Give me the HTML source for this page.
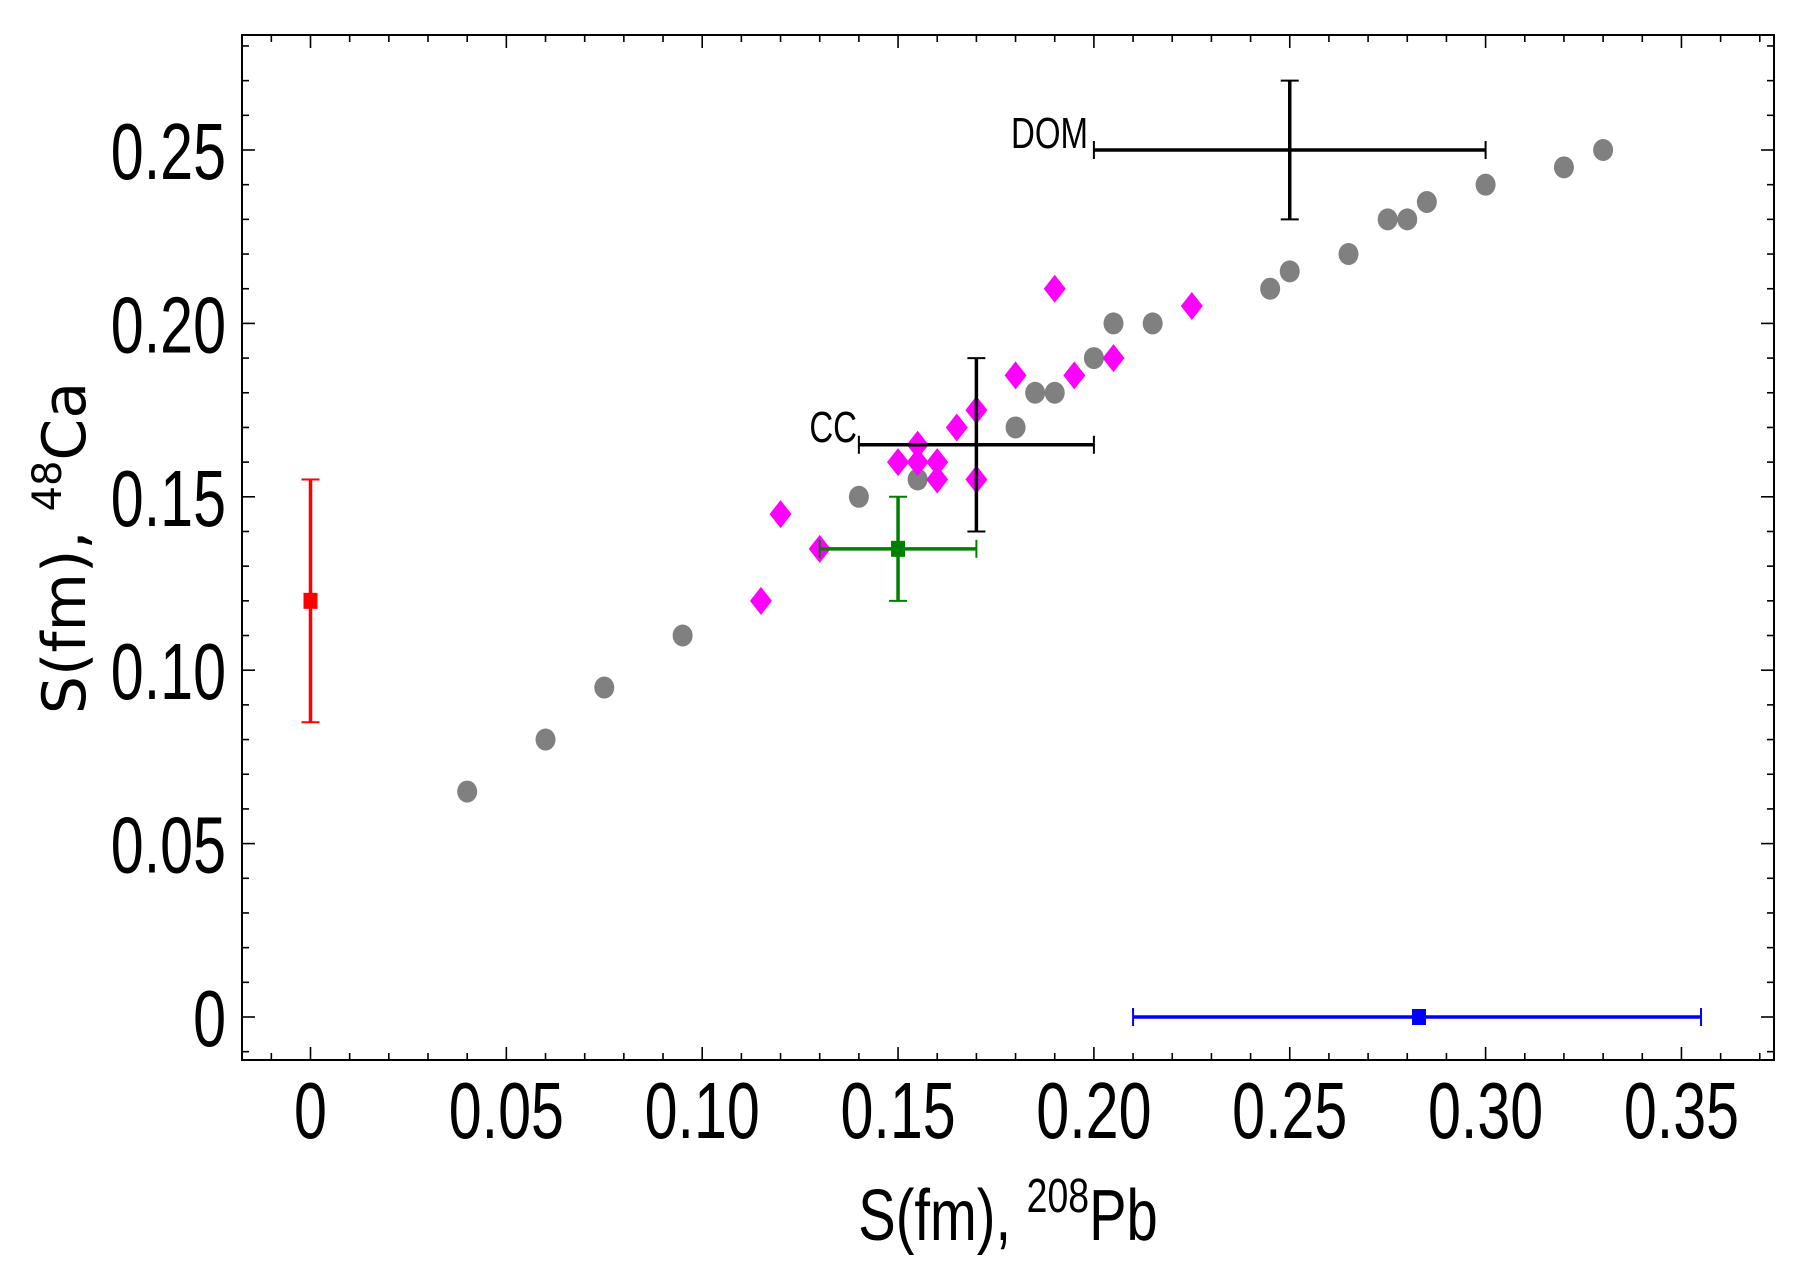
<!DOCTYPE html>
<html><head><meta charset="utf-8"><style>
html,body{margin:0;padding:0;background:#fff;}
svg{display:block;}
</style></head><body>
<svg id="chart" width="1801" height="1272" viewBox="0 0 1801 1272" xmlns="http://www.w3.org/2000/svg"></svg>
<script>
const xTicks=[0,0.05,0.10,0.15,0.20,0.25,0.30,0.35];
const xTickLabels=["0","0.05","0.10","0.15","0.20","0.25","0.30","0.35"];
const yTicks=[0,0.05,0.10,0.15,0.20,0.25];
const yTickLabels=["0","0.05","0.10","0.15","0.20","0.25"];
const grayX=[0.04,0.06,0.075,0.095,0.14,0.155,0.18,0.185,0.19,0.2,0.205,0.215,0.245,0.25,0.265,0.275,0.28,0.285,0.3,0.32,0.33];
const grayY=[0.065,0.08,0.095,0.11,0.15,0.155,0.17,0.18,0.18,0.19,0.2,0.2,0.21,0.215,0.22,0.23,0.23,0.235,0.24,0.245,0.25];
const magX=[0.115,0.12,0.13,0.15,0.155,0.155,0.16,0.16,0.165,0.17,0.17,0.18,0.19,0.195,0.205,0.225];
const magY=[0.12,0.145,0.135,0.16,0.165,0.16,0.16,0.155,0.17,0.175,0.155,0.185,0.21,0.185,0.19,0.205];
const errNames=["red-point","green-point","cc-point","dom-point","blue-point"];
const errX=[0,0.15,0.17,0.25,0.283];
const errY=[0.12,0.135,0.165,0.25,0];
const errXlo=[0,0.13,0.14,0.2,0.21];
const errXhi=[0,0.17,0.2,0.3,0.355];
const errYlo=[0.085,0.12,0.14,0.23,0];
const errYhi=[0.155,0.15,0.19,0.27,0];
const errColors=["#ff0000","#008000","#000000","#000000","#0000ff"];
const errMarker=[true,true,false,false,true];

const L=242,R=1774,T=35,B=1060;
const X0=310.5,XS=3917,Y0=1017,YS=3468;
const sx=v=>X0+v*XS, sy=v=>Y0-v*YS;
const svg=document.getElementById('chart');
const NS='http://www.w3.org/2000/svg';
function mk(tag,attrs,parent){const e=document.createElementNS(NS,tag);for(const k in attrs)e.setAttribute(k,attrs[k]);(parent||svg).appendChild(e);return e;}

const frame=mk('rect',{x:L,y:T,width:R-L,height:B-T,fill:'none',stroke:'#000','stroke-width':2});



const tg=mk('g',{stroke:'#000','stroke-width':1.6});


for(let i=-1;i<=37;i++){const v=i*0.01,x=sx(v);if(x<L||x>R)continue;const major=i%5===0;const len=major?13:7;
 mk('line',{x1:x,y1:B,x2:x,y2:B-len},tg);mk('line',{x1:x,y1:T,x2:x,y2:T+len},tg);}
for(let i=-1;i<=28;i++){const v=i*0.01,y=sy(v);if(y<T||y>B)continue;const major=i%5===0;const len=major?13:7;
 mk('line',{x1:L,y1:y,x2:L+len,y2:y},tg);mk('line',{x1:R,y1:y,x2:R-len,y2:y},tg);}

xTicks.forEach((v,i)=>{const t=mk('text',{x:0,y:0,'font-family':'Liberation Sans, sans-serif','font-size':80,'text-anchor':'middle',transform:`translate(${sx(v)},1138) scale(0.74,1)`});t.textContent=xTickLabels[i];
 
 });
yTicks.forEach((v,i)=>{const t=mk('text',{x:0,y:0,'font-family':'Liberation Sans, sans-serif','font-size':80,'text-anchor':'end',transform:`translate(226,${sy(v)+29}) scale(0.74,1)`});t.textContent=yTickLabels[i];
 
 });

const xt=mk('text',{x:0,y:0,'font-family':'Liberation Sans, sans-serif','font-size':72,'text-anchor':'middle',transform:'translate(1008,1240) scale(0.78,1)'});
xt.innerHTML='S(fm), <tspan dy="-28" font-size="48">208</tspan><tspan dy="28">Pb</tspan>';


const yt=mk('text',{x:0,y:0,'font-family':'DejaVu Sans, sans-serif','font-size':60,'text-anchor':'middle',transform:'translate(85,548) rotate(-90)'});
yt.innerHTML='S(fm), <tspan dy="-24" font-size="40">48</tspan><tspan dy="24">Ca</tspan>';



grayX.forEach((v,i)=>{const c=mk('ellipse',{cx:sx(v),cy:sy(grayY[i]),rx:10,ry:11,fill:'#808080'});
 
 });
magX.forEach((v,i)=>{const x=sx(v),y=sy(magY[i]);const p=mk('polygon',{points:`${x},${y-14} ${x+11},${y} ${x},${y+14} ${x-11},${y}`,fill:'#ff00ff'});
 
 });

errX.forEach((v,i)=>{const g=mk('g',{stroke:errColors[i],'stroke-width':3.5,fill:errColors[i]});
 
 
 const x=sx(v),y=sy(errY[i]);
 if(errXhi[i]>errXlo[i]){const a=sx(errXlo[i]),b=sx(errXhi[i]);mk('line',{x1:a,y1:y,x2:b,y2:y},g);mk('line',{x1:a,y1:y-9,x2:a,y2:y+9,'stroke-width':2},g);mk('line',{x1:b,y1:y-9,x2:b,y2:y+9,'stroke-width':2},g);}
 if(errYhi[i]>errYlo[i]){const a=sy(errYlo[i]),b=sy(errYhi[i]);mk('line',{x1:x,y1:a,x2:x,y2:b},g);mk('line',{x1:x-9,y1:a,x2:x+9,y2:a,'stroke-width':2},g);mk('line',{x1:x-9,y1:b,x2:x+9,y2:b,'stroke-width':2},g);}
 if(errMarker[i])mk('rect',{x:x-7,y:y-8,width:14,height:16,stroke:'none'},g);
});

const dom=mk('text',{x:0,y:0,'font-family':'Liberation Sans, sans-serif','font-size':44,'text-anchor':'end',transform:'translate(1088,148) scale(0.75,1)'});dom.textContent='DOM';


const cc=mk('text',{x:0,y:0,'font-family':'Liberation Sans, sans-serif','font-size':44,'text-anchor':'end',transform:'translate(857,442) scale(0.75,1)'});cc.textContent='CC';


</script>
</body></html>
